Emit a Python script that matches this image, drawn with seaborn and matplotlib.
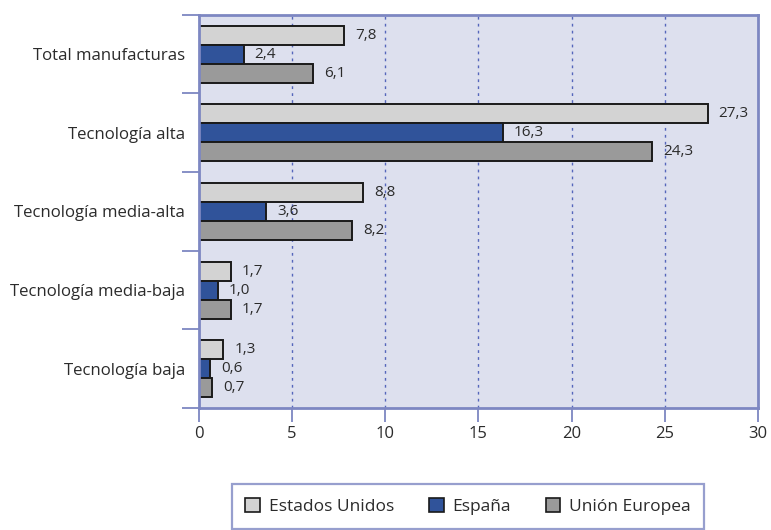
import numpy as np
import pandas as pd
import matplotlib
matplotlib.use("Agg")
import matplotlib.pyplot as plt
import seaborn as sns
from matplotlib.patches import Patch

categories = ["Total manufacturas", "Tecnología alta", "Tecnología media-alta",
              "Tecnología media-baja", "Tecnología baja"]
series = ["Estados Unidos", "España", "Unión Europea"]
estados_unidos = [7.8, 27.3, 8.8, 1.7, 1.3]
espana = [2.4, 16.3, 3.6, 1.0, 0.6]
union_europea = [6.1, 24.3, 8.2, 1.7, 0.7]
x_ticks = [0, 5, 10, 15, 20, 25, 30]

colors = ["#d3d3d3", "#30539a", "#9a9a9a"]
frame_col = "#7d87c2"
bg_col = "#dde0ee"
text_col = "#2b2b2b"

df = pd.DataFrame({
    "categoria": categories * 3,
    "serie": [series[0]] * 5 + [series[1]] * 5 + [series[2]] * 5,
    "valor": estados_unidos + espana + union_europea,
})

sns.set_style("white")
plt.rcParams["font.family"] = ["Open Sans", "DejaVu Sans"]
plt.rcParams["text.color"] = text_col

fig = plt.figure(figsize=(7.71, 5.30), dpi=100)
ax = fig.add_axes([0.258, 0.230, 0.725, 0.742])
ax.set_facecolor(bg_col)

sns.barplot(data=df, x="valor", y="categoria", hue="serie", order=categories,
            hue_order=series, palette=colors, orient="h", width=0.725,
            edgecolor="#1a1a1a", linewidth=1.4, saturation=1, legend=False, ax=ax)

for cont in ax.containers:
    ax.bar_label(cont, labels=[f"{v:.1f}".replace(".", ",") for v in cont.datavalues],
                 padding=8, fontsize=11, color=text_col)

ax.set_xlim(0, 30)
ax.set_ylim(4.5, -0.5)
ax.set_xticks(x_ticks)
ax.set_xticklabels([str(t) for t in x_ticks], fontsize=12)
ax.set_yticks(np.arange(-0.5, 5.0, 1.0))
ax.set_yticklabels([])
ax.set_yticks(range(len(categories)), minor=True)
ax.set_yticklabels(categories, minor=True, fontsize=12.1)
ax.tick_params(axis="y", which="major", left=True, length=12, width=1.3,
               color=frame_col, direction="out")
ax.tick_params(axis="y", which="minor", left=True, length=0, pad=10)
ax.tick_params(axis="x", bottom=True, length=10, width=1.3, color=frame_col,
               direction="out", pad=3, labelcolor=text_col)
ax.tick_params(axis="y", labelcolor=text_col, which="both")
ax.set_xlabel("")
ax.set_ylabel("")

for x in x_ticks[1:-1]:
    ax.axvline(x, color="#5566bb", linestyle=(0, (2, 3)), linewidth=1.0, zorder=0.5)

for s in ax.spines.values():
    s.set_visible(True)
    s.set_color(frame_col)
    s.set_linewidth(2)

handles = [Patch(facecolor=c, edgecolor="#1a1a1a", linewidth=1.2) for c in colors]
leg = fig.legend(handles, series, loc="upper center", bbox_to_anchor=(0.607, 0.086),
                 ncol=3, frameon=True, fancybox=False, fontsize=12.5,
                 handlelength=0.85, handleheight=0.85, handletextpad=0.5,
                 columnspacing=2.0, borderpad=0.8, borderaxespad=0)
leg.get_frame().set_edgecolor(frame_col)
leg.get_frame().set_linewidth(1.6)

fig.savefig("out.png", dpi=100)
